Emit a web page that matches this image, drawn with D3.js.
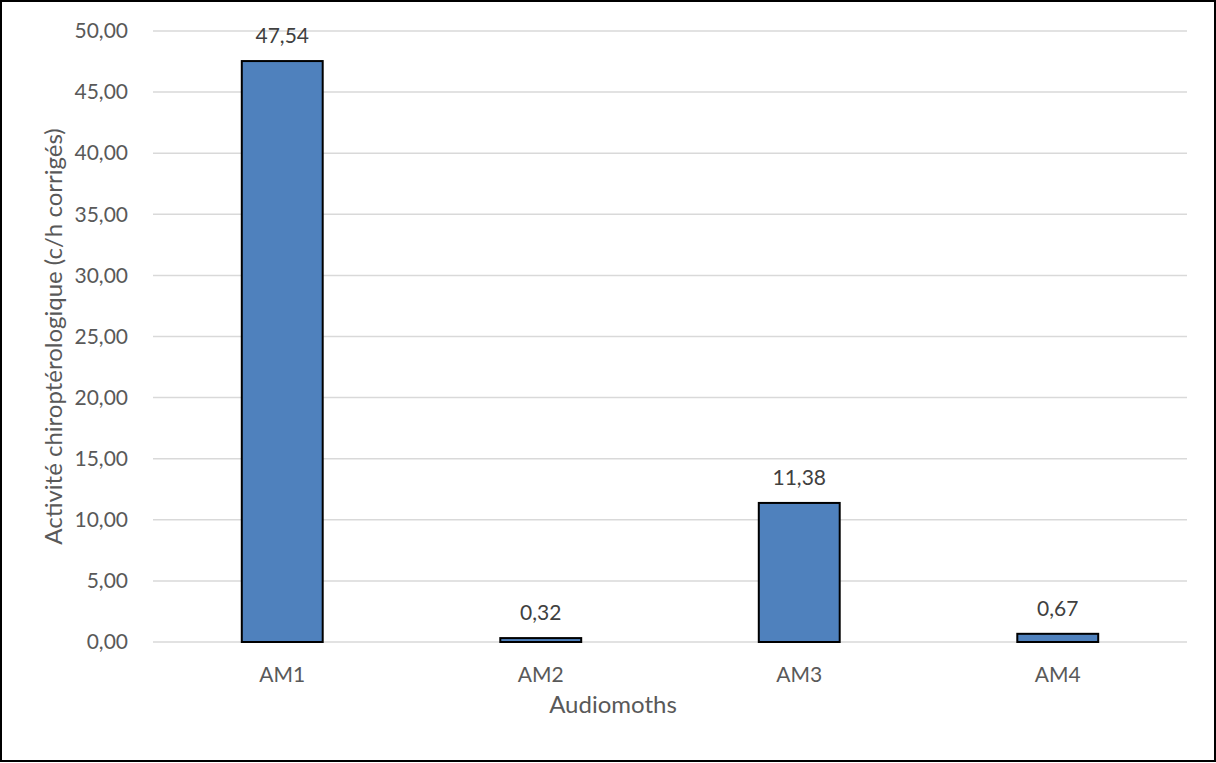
<!DOCTYPE html>
<html>
<head>
<meta charset="utf-8">
<script src="https://cdn.jsdelivr.net/npm/d3@7"></script>
<style>
  html, body { margin: 0; padding: 0; background: #fff; }
  svg { display: block; }
</style>
</head>
<body>
<div id="chart"></div>
<script>
// Données
const categories = ["AM1", "AM2", "AM3", "AM4"];
const values = [47.54, 0.32, 11.38, 0.67];
const yTicks = [0, 5, 10, 15, 20, 25, 30, 35, 40, 45, 50];
const xTitle = "Audiomoths";
const yTitle = "Activité chiroptérologique (c/h corrigés)";

const width = 1216;
const height = 763;
const margin = { top: 31, right: 29, bottom: 121, left: 153 };
const font = "Lato, 'Open Sans', sans-serif";
const textColor = "#595959";

const fmt = v => v.toFixed(2).replace(".", ",");

const svg = d3.select("#chart").append("svg")
    .attr("width", width)
    .attr("height", height)
    .style("font-family", font);

svg.append("rect")
    .attr("width", width)
    .attr("height", height)
    .attr("fill", "#fff");

const x = d3.scaleBand()
    .domain(categories)
    .range([margin.left, width - margin.right])
    .paddingInner(0.687)
    .paddingOuter(0.687 / 2);

const y = d3.scaleLinear()
    .domain([0, 50])
    .range([height - margin.bottom, margin.top]);

// Grille
svg.append("g")
    .selectAll("line")
    .data(yTicks)
    .join("line")
    .attr("x1", margin.left)
    .attr("x2", width - margin.right)
    .attr("y1", d => y(d))
    .attr("y2", d => y(d))
    .attr("stroke", "#d9d9d9")
    .attr("stroke-width", 1.5);

// Axe Y
const yAxis = svg.append("g")
    .attr("transform", `translate(${margin.left - 25},0)`)
    .call(d3.axisLeft(y).tickValues(yTicks).tickFormat(fmt).tickSize(0).tickPadding(0));
yAxis.select(".domain").remove();
yAxis.selectAll(".tick text")
    .attr("fill", textColor)
    .style("font-family", font)
    .style("font-size", "21px");

// Barres
svg.append("g")
    .selectAll("rect")
    .data(values)
    .join("rect")
    .attr("x", (d, i) => x(categories[i]))
    .attr("y", d => y(d))
    .attr("width", x.bandwidth())
    .attr("height", d => y(0) - y(d))
    .attr("fill", "#4f81bd")
    .attr("stroke", "#000")
    .attr("stroke-width", 2);

// Étiquettes de données
svg.append("g")
    .selectAll("text")
    .data(values)
    .join("text")
    .attr("x", (d, i) => x(categories[i]) + x.bandwidth() / 2)
    .attr("y", d => y(d) - 18)
    .attr("text-anchor", "middle")
    .attr("fill", "#404040")
    .style("font-size", "21px")
    .text(fmt);

// Axe X
const xAxis = svg.append("g")
    .attr("transform", `translate(0,${y(0)})`)
    .call(d3.axisBottom(x).tickSize(0).tickPadding(0));
xAxis.select(".domain").remove();
xAxis.selectAll(".tick text")
    .attr("dy", null)
    .attr("y", 40)
    .attr("fill", textColor)
    .style("font-family", font)
    .style("font-size", "21px");

// Titres des axes
svg.append("text")
    .attr("x", 613)
    .attr("y", 713)
    .attr("text-anchor", "middle")
    .attr("fill", textColor)
    .style("font-size", "24px")
    .text(xTitle);

svg.append("text")
    .attr("transform", `translate(62,${(margin.top + y(0)) / 2}) rotate(-90)`)
    .attr("text-anchor", "middle")
    .attr("fill", textColor)
    .style("font-size", "24px")
    .text(yTitle);

// Cadre
svg.append("rect")
    .attr("x", 1)
    .attr("y", 1)
    .attr("width", width - 2)
    .attr("height", height - 3)
    .attr("fill", "none")
    .attr("stroke", "#000")
    .attr("stroke-width", 2);
</script>
</body>
</html>
